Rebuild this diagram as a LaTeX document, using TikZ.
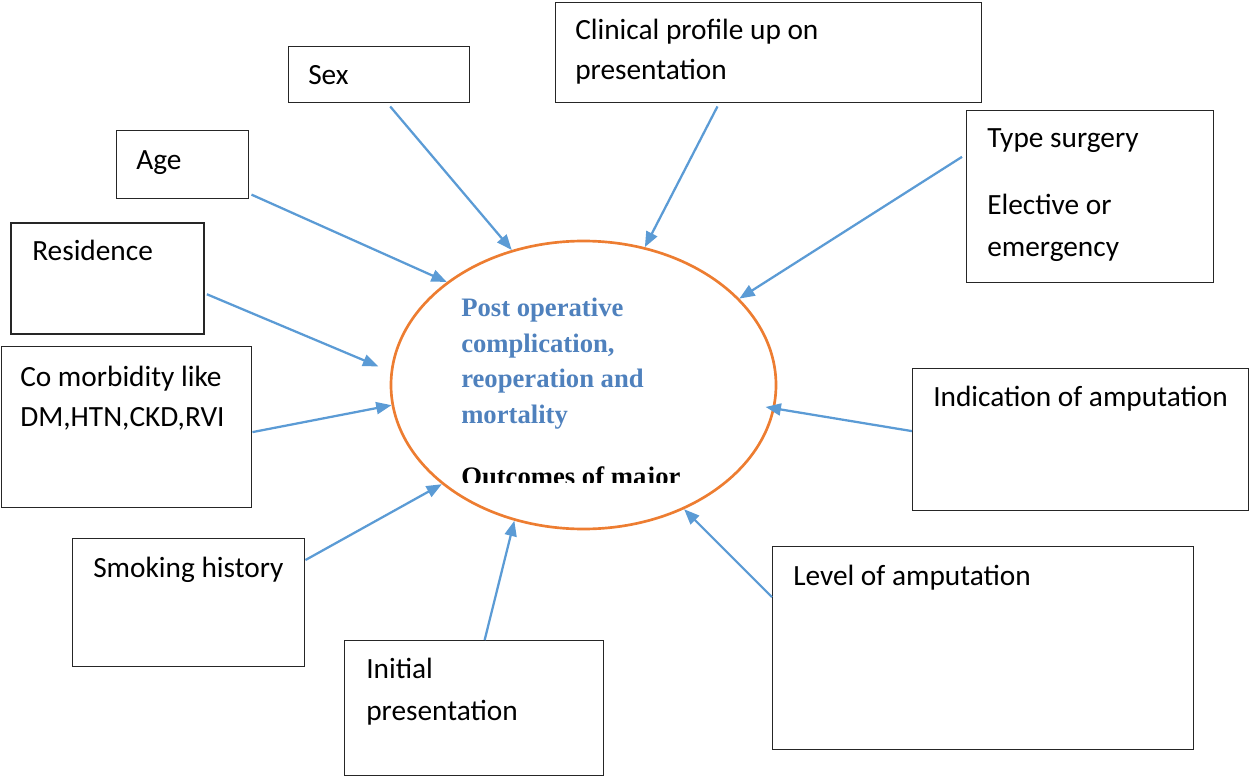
\documentclass[tikz,border=0pt]{standalone}
\usepackage{fontspec}
\setmainfont{Carlito}
\newfontfamily\serifb{Liberation Serif}
\usetikzlibrary{shapes.geometric,calc,arrows.meta}
\definecolor{arrowblue}{HTML}{5B9BD5}
\definecolor{ellorange}{HTML}{ED7D31}
\definecolor{textblue}{HTML}{4F81BD}
\begin{document}
\begin{tikzpicture}[x=0.75pt,y=-0.75pt,
  box/.style={draw=black!85,line width=1.1pt,rectangle,inner sep=0pt,anchor=north west},
  lbl/.style={inner sep=0pt,anchor=base west,font=\fontsize{22}{26}\selectfont},
  etext/.style={inner sep=0pt,anchor=base west,font=\serifb\bfseries\fontsize{20}{24}\selectfont},
  conn/.style={draw=arrowblue,line width=1.7pt,-{Triangle[length=11.5pt,width=9pt]}}]
\useasboundingbox (0,0) rectangle (1249,777);
% ellipse
\node[ellipse,draw=ellorange,line width=2pt,minimum width=288.75pt,minimum height=216pt,inner sep=0pt] (ell) at (583.5,385) {};
\node[etext,text=textblue] (t1) at (461,316) {Post operative};
\node[etext,text=textblue] (t2) at (461,352) {complication,};
\node[etext,text=textblue] (t3) at (461,387) {reoperation and};
\node[etext,text=textblue] (t4) at (461,423) {mortality};
\begin{scope}
\clip (400,440) rectangle (780,482);
\node[etext,text=black] (t5) at (461,485) {Outcomes of major};
\end{scope}
% boxes
\node[box,minimum width=135.75pt,minimum height=42pt] (sex) at (288,46) {};
\node[lbl] (sexl) at (308,85) {Sex};
\node[box,minimum width=319.5pt,minimum height=75pt] (clin) at (555,2) {};
\node[lbl] (clinl1) at (575,40) {Clinical profile up on};
\node[lbl] (clinl2) at (575,80) {presentation};
\node[box,minimum width=99pt,minimum height=51pt] (age) at (116,130) {};
\node[lbl] (agel) at (136,170) {Age};
\node[box,minimum width=144.75pt,minimum height=83.25pt,line width=1.4pt] (res) at (10,222) {};
\node[lbl] (resl) at (32,261) {Residence};
\node[box,minimum width=187.5pt,minimum height=120.75pt] (como) at (1,346) {};
\node[lbl] (comol1) at (20,386) {Co morbidity like};
\node[lbl] (comol2) at (20,426) {DM,HTN,CKD,RVI};
\node[box,minimum width=185.25pt,minimum height=129pt] (type) at (966,110) {};
\node[lbl] (typel1) at (987,148) {Type surgery};
\node[lbl] (typel2) at (987,215) {Elective or};
\node[lbl] (typel3) at (987,257) {emergency};
\node[box,minimum width=252pt,minimum height=106.5pt] (ind) at (912,368) {};
\node[lbl] (indl) at (933,406) {Indication of amputation};
\node[box,minimum width=174pt,minimum height=96pt] (smok) at (72,538) {};
\node[lbl] (smokl) at (93,577) {Smoking history};
\node[box,minimum width=194.25pt,minimum height=101.25pt] (init) at (344,640) {};
\node[lbl] (initl1) at (366,678) {Initial};
\node[lbl] (initl2) at (366,720) {presentation};
\node[box,minimum width=315.75pt,minimum height=152.25pt] (lev) at (772,546) {};
\node[lbl] (levl) at (793,585) {Level of amputation};
% connectors
\draw[conn] ($(sex.south west)!0.56!(sex.south east)+(0,3)$) -- (ell.118.4);
\draw[conn] ($(clin.south west)!0.38!(clin.south east)+(0,3)$) -- (ell.66.9);
\draw[conn] ($(age.north east)!0.93!(age.south east)+(2,0)$) -- (ell.143.1);
\draw[conn] ($(type.north west)!0.27!(type.south west)+(-4,0)$) -- (ell.29.2);
\draw[conn,shorten >=10pt] ($(res.north east)!0.64!(res.south east)+(2,0)$) -- (ell.176.9);
\draw[conn] ($(como.north east)!0.53!(como.south east)$) -- (ell.186.5);
\draw[conn,shorten >=-7pt] ($(ind.north west)!0.44!(ind.south west)$) -- (ell.-7.2);
\draw[conn] ($(smok.north east)!0.17!(smok.south east)$) -- (ell.215.2);
\draw[conn] ($(init.north west)!0.54!(init.north east)$) -- (ell.243.9);
\draw[conn] ($(lev.north west)!0.25!(lev.south west)$) -- (ell.-51);
\end{tikzpicture}
\end{document}
